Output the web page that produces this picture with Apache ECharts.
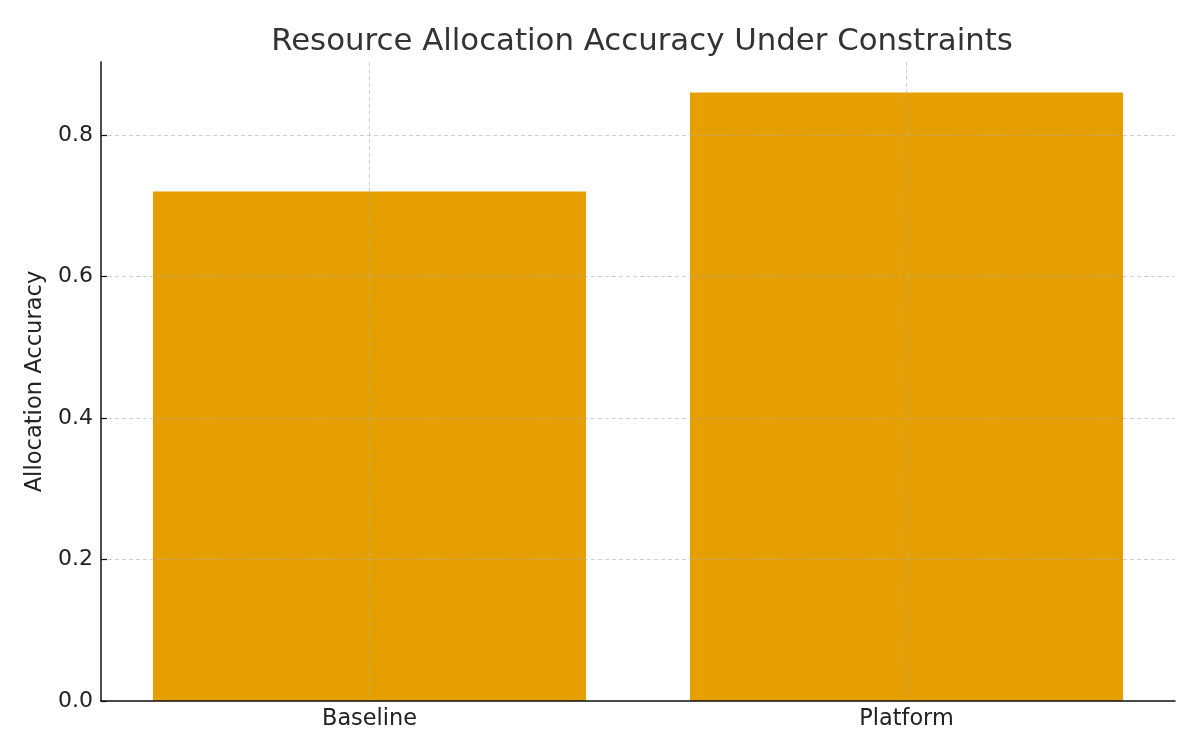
<!DOCTYPE html>
<html>
<head>
<meta charset="utf-8">
<script src="https://cdn.jsdelivr.net/npm/echarts@6/dist/echarts.min.js"></script>
<style>
  html, body { margin: 0; padding: 0; background: #fff; }
  #chart { width: 1200px; height: 756px; }
</style>
</head>
<body>
<div id="chart"></div>
<script>
// Valeurs
const categories = ["Baseline", "Platform"];
const accuracy = [0.72, 0.86];
const yTicks = [0, 0.2, 0.4, 0.6, 0.8];
// positions des lignes verticales de grille (centres des catégories)
const gridSlots = ["", "Baseline", "", "Platform", ""];

const font = "DejaVu Sans";
const gridStyle = { color: "rgba(176,176,176,0.6)", type: [4, 3], width: 1 };

const chart = echarts.init(document.getElementById("chart"));

const option = {
  backgroundColor: "#ffffff",
  animation: false,
  title: {
    text: "Resource Allocation Accuracy Under Constraints",
    left: 637,
    textAlign: "center",
    top: 21,
    textStyle: { fontFamily: font, fontSize: 30.8, fontWeight: "normal", color: "#333" },
  },
  grid: { left: 101, right: 25, top: 62, bottom: 55 },
  xAxis: [
    {
      type: "category",
      data: categories,
      z: 5,
      axisLine: { lineStyle: { color: "#111", width: 1.5 } },
      axisTick: { inside: true, length: 6, alignWithLabel: true, lineStyle: { color: "#111", width: 1.2 } },
      axisLabel: { fontFamily: font, fontSize: 22.4, color: "#222", margin: 7 },
      splitLine: { show: false },
    },
    {
      // axe caché, sert seulement aux lignes verticales de grille
      type: "category",
      data: gridSlots,
      boundaryGap: false,
      position: "bottom",
      z: 5,
      axisLine: { show: false },
      axisTick: { show: false },
      axisLabel: { show: false },
      splitLine: { show: true, interval: (i) => i % 2 === 1, lineStyle: gridStyle },
    },
  ],
  yAxis: {
    type: "value",
    min: 0,
    max: 0.903,
    interval: 0.2,
    z: 5,
    name: "Allocation Accuracy",
    nameLocation: "middle",
    nameGap: 50,
    nameTextStyle: { fontFamily: font, fontSize: 22.6, color: "#222" },
    axisLine: { show: true, lineStyle: { color: "#111", width: 1.5 } },
    axisTick: { show: true, inside: true, length: 6, lineStyle: { color: "#111", width: 1.2 } },
    axisLabel: {
      fontFamily: font,
      fontSize: 22,
      color: "#222",
      margin: 8,
      showMaxLabel: false,
      formatter: (v) => (yTicks.some((t) => Math.abs(t - v) < 1e-9) ? v.toFixed(1) : ""),
    },
    splitLine: { show: true, showMinLine: false, showMaxLine: false, lineStyle: gridStyle },
  },
  series: [
    {
      type: "bar",
      xAxisIndex: 0,
      data: accuracy,
      barWidth: 433,
      itemStyle: { color: "#E69F00" },
    },
  ],
};

chart.setOption(option);
</script>
</body>
</html>
